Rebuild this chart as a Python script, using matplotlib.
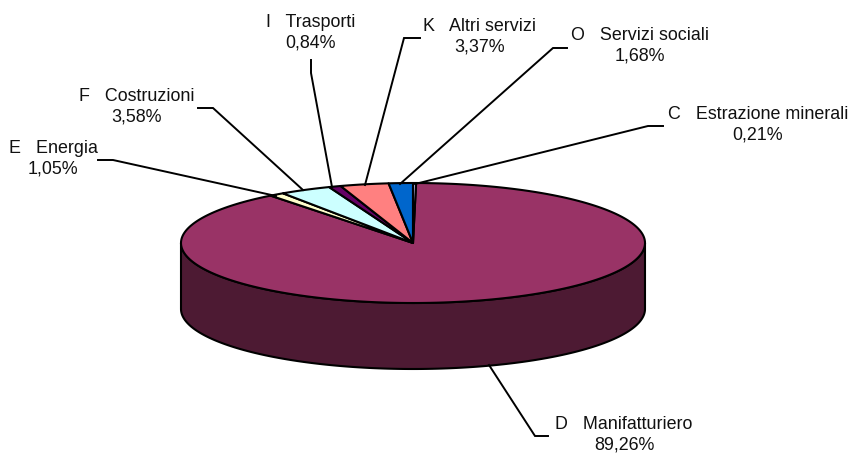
import numpy as np
import matplotlib
matplotlib.use("Agg")
import matplotlib.pyplot as plt
from matplotlib.patches import Polygon

# --- data (clockwise from the top of the pie) ---
categories = ["D   Manifatturiero", "E   Energia", "F   Costruzioni", "I   Trasporti",
              "K   Altri servizi", "O   Servizi sociali", "C   Estrazione minerali"]
shares = [89.26, 1.05, 3.58, 0.84, 3.37, 1.68, 0.21]
percent_labels = ["89,26%", "1,05%", "3,58%", "0,84%", "3,37%", "1,68%", "0,21%"]

# --- style / layout (pixel coordinates) ---
top_colors = ["#993366", "#FFFFCC", "#CCFFFF", "#660066", "#FF8080", "#0066CC", "#CCCCFF"]
side_colors = ["#4D1A33", "#808066", "#668080", "#330033", "#804040", "#003366", "#666680"]
CX, CY, RX, RY, DEPTH = 413, 243, 232, 60, 66
START = 0.76
label_centers = [(624, 435), (53, 159), (137, 107), (311, 33), (480, 37), (640, 46), (758, 125)]
leaders = [
    [(548, 436), (535, 436), (489, 365)],
    [(98, 160), (113, 160), (276, 196)],
    [(198, 108), (213, 108), (303, 190)],
    [(311, 60), (311, 73), (332, 187)],
    [(420, 38), (404, 38), (365, 185)],
    [(567, 48), (553, 48), (400, 184)],
    [(663, 126), (648, 126), (415, 184)],
]

fig = plt.figure(figsize=(8.53, 4.53), dpi=100)
ax = fig.add_axes([0, 0, 1, 1])
ax.set_xlim(0, 853)
ax.set_ylim(453, 0)
ax.axis("off")


def rim(t_deg, dy=0):
    t = np.radians(t_deg)
    return np.column_stack([CX + RX * np.sin(t), CY + dy - RY * np.cos(t)])


edges = START + np.concatenate([[0], np.cumsum(shares)]) * 360 / sum(shares)
LW = 1.5

# side wall: only the front half of the rim is visible
for i in range(len(shares)):
    a, b = max(edges[i], 90), min(edges[i + 1], 270)
    if a < b:
        t = np.linspace(a, b, 240)
        pts = np.vstack([rim(t), rim(t[::-1], DEPTH)])
        ax.add_patch(Polygon(pts, closed=True, fc=side_colors[i], ec="black", lw=LW,
                             joinstyle="round", zorder=2))

# top faces
for i in range(len(shares)):
    t = np.linspace(edges[i], edges[i + 1], max(int(edges[i + 1] - edges[i]) * 2, 8))
    pts = np.vstack([[(CX, CY)], rim(t)])
    ax.add_patch(Polygon(pts, closed=True, fc=top_colors[i], ec="black", lw=LW,
                         joinstyle="round", zorder=3))

# leader lines and labels
for pts in leaders:
    xs, ys = zip(*pts)
    ax.plot(xs, ys, color="black", lw=1.4, solid_joinstyle="miter", zorder=4)

for name, pct, (x, y) in zip(categories, percent_labels, label_centers):
    ax.text(x, y, f"{name}\n{pct}", ha="center", va="center", fontsize=12.9,
            family="Liberation Sans", color="#111111", linespacing=1.3, zorder=5)

fig.savefig("out.png", dpi=100, facecolor="white")
